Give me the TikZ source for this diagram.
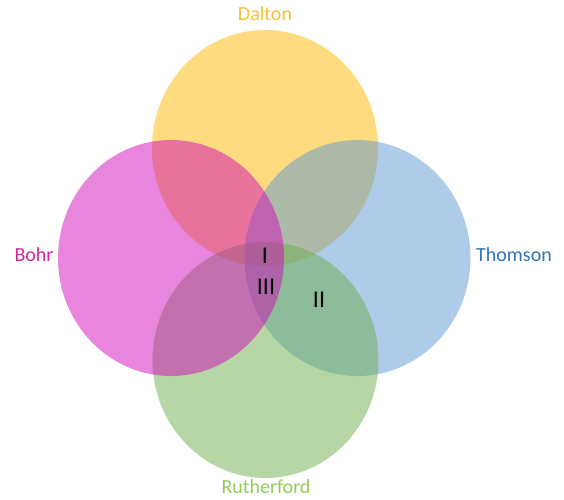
\documentclass[tikz,border=0pt]{standalone}
\usepackage{fontspec}
\setmainfont{Carlito}
\usetikzlibrary{shapes.geometric}
\definecolor{cDal}{RGB}{253,183,0}
\definecolor{cBohr}{RGB}{209,11,185}
\definecolor{cThom}{RGB}{93,153,211}
\definecolor{cRuth}{RGB}{109,173,77}
\definecolor{tDal}{RGB}{244,194,50}
\definecolor{tBohr}{RGB}{214,38,160}
\definecolor{tThom}{RGB}{46,117,182}
\definecolor{tRuth}{RGB}{146,204,86}
\tikzset{
  setcirc/.style={ellipse, inner sep=0pt, minimum width=226pt, minimum height=236pt, fill=#1, fill opacity=0.5, draw=none},
  setlabel/.style={font=\fontsize{20}{24}\selectfont, text=#1, inner sep=0pt},
  region/.style={font=\fontsize{24}{28}\selectfont, text=black, inner sep=0pt}
}
\begin{document}
\begin{tikzpicture}[x=1pt,y=-1pt]
\useasboundingbox (0,0) rectangle (564,499);
\node[setcirc=cDal]  (dalton) at (265,148) {};
\node[setcirc=cThom] (thomson) at (357.5,258) {};
\node[setcirc=cRuth] (rutherford) at (265.5,360) {};
\node[setcirc=cBohr] (bohr) at (171,258) {};
\node[setlabel=tDal]  (ldal) at (265,14) {Dalton};
\node[setlabel=tBohr] (lbohr) at (34,255) {Bohr};
\node[setlabel=tThom] (lthom) at (514,255) {Thomson};
\node[setlabel=tRuth] (lruth) at (266,487) {Rutherford};
\node[region] (r1) at (265,256) {I};
\node[region] (r3) at (266,287) {III};
\node[region] (r2) at (319,300) {II};
\end{tikzpicture}
\end{document}
